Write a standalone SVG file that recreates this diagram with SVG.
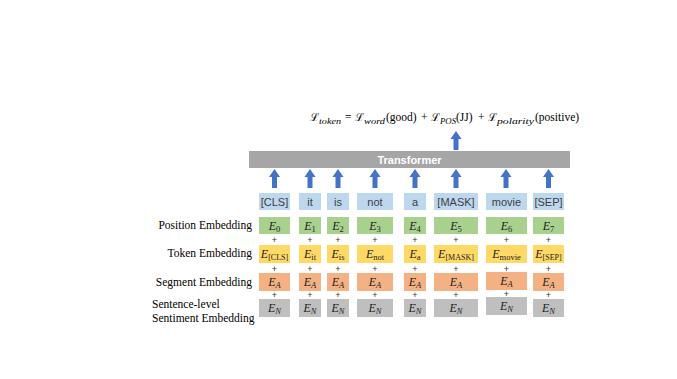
<svg xmlns="http://www.w3.org/2000/svg" width="677" height="379" viewBox="0 0 677 379">
<style>
.lbl{font-family:"Liberation Serif","Times New Roman",serif;font-size:11.5px;fill:#000}
.eq{font-family:"Liberation Serif","DejaVu Serif",serif;font-size:11.5px;fill:#000}
.L{font-family:"DejaVu Serif","Liberation Serif",serif;font-size:11px}
.it{font-style:italic}
.sub{font-size:9px;font-style:italic}
.tok{fill:#bdd7ee}
.tt{font-family:"Liberation Sans",Arial,sans-serif;font-size:11px;fill:#404040;text-anchor:middle}
.pos{fill:#a9d18e}
.tke{fill:#ffd966}
.seg{fill:#f4b183}
.sen{fill:#bfbfbf}
.e{font-family:"Liberation Serif","DejaVu Serif",serif;font-size:12px;fill:#222;text-anchor:middle}
.plus{font-family:"Liberation Sans",Arial,sans-serif;font-size:9px;fill:#333;text-anchor:middle}
.arr{fill:#4472c4}
</style>
<defs>
<path id="arrow" class="arr" d="M0,0 L5.5,8 L2.5,8 L2.5,19 L-2.5,19 L-2.5,8 L-5.5,8 Z"/>
</defs>
<rect width="677" height="379" fill="#fff"/>

<g id="equation">
<text class="eq" y="121">
<tspan x="310" class="L">ℒ</tspan><tspan x="319" dy="2.5" class="sub" textLength="22" lengthAdjust="spacingAndGlyphs">token</tspan>
<tspan x="345" dy="-2.5">=</tspan>
<tspan x="355" class="L">ℒ</tspan><tspan x="364" dy="2.5" class="sub" textLength="21" lengthAdjust="spacingAndGlyphs">word</tspan>
<tspan x="386" dy="-2.5">(good)</tspan><tspan x="421">+</tspan>
<tspan x="431" class="L">ℒ</tspan><tspan x="440" dy="2.5" class="sub" textLength="16" lengthAdjust="spacingAndGlyphs">POS</tspan>
<tspan x="456" dy="-2.5">(JJ)</tspan><tspan x="478">+</tspan>
<tspan x="488" class="L">ℒ</tspan><tspan x="497" dy="2.5" class="sub" textLength="37" lengthAdjust="spacingAndGlyphs">polarity</tspan>
<tspan x="535" dy="-2.5">(positive)</tspan>
</text>
</g>

<g id="transformer">
<rect x="249" y="151" width="321" height="17" fill="#a6a6a6"/>
<text x="409.5" y="163.5" font-family="'Liberation Sans',Arial,sans-serif" font-size="11" font-weight="bold" fill="#fff" text-anchor="middle">Transformer</text>
</g>

<g id="connectors">
<use href="#arrow" x="456" y="131"/>
<use href="#arrow" x="274.5" y="169"/>
<use href="#arrow" x="310" y="169"/>
<use href="#arrow" x="338" y="169"/>
<use href="#arrow" x="375" y="169"/>
<use href="#arrow" x="415" y="169"/>
<use href="#arrow" x="456" y="169"/>
<use href="#arrow" x="506" y="169"/>
<use href="#arrow" x="548.5" y="169"/>
</g>

<g id="row-labels">
<text class="lbl" x="252" y="229" text-anchor="end">Position Embedding</text>
<text class="lbl" x="252" y="257" text-anchor="end">Token Embedding</text>
<text class="lbl" x="252" y="286" text-anchor="end">Segment Embedding</text>
<text class="lbl" x="152" y="308">Sentence-level</text>
<text class="lbl" x="152" y="322">Sentiment Embedding</text>
</g>

<g id="tokens">
<g id="tok0"><rect class="tok" x="259" y="193" width="31" height="17"/><text class="tt" x="274.5" y="205.5">[CLS]</text></g>
<g id="tok1"><rect class="tok" x="299" y="193" width="22" height="17"/><text class="tt" x="310" y="205.5">it</text></g>
<g id="tok2"><rect class="tok" x="327" y="193" width="22" height="17"/><text class="tt" x="338" y="205.5">is</text></g>
<g id="tok3"><rect class="tok" x="357" y="193" width="36" height="17"/><text class="tt" x="375" y="205.5">not</text></g>
<g id="tok4"><rect class="tok" x="404" y="193" width="22" height="17"/><text class="tt" x="415" y="205.5">a</text></g>
<g id="tok5"><rect class="tok" x="434" y="193" width="44" height="17"/><text class="tt" x="456" y="205.5">[MASK]</text></g>
<g id="tok6"><rect class="tok" x="486" y="193" width="41" height="17"/><text class="tt" x="506.5" y="205.5">movie</text></g>
<g id="tok7"><rect class="tok" x="533" y="193" width="31" height="17"/><text class="tt" x="548.5" y="205.5">[SEP]</text></g>
</g>

<g id="position-embedding">
<g id="pos0"><rect class="pos" x="259" y="217" width="31" height="17"/><text class="e" x="274.5" y="229.5"><tspan class="it">E</tspan><tspan font-size="8.5" dy="2">0</tspan></text></g>
<g id="pos1"><rect class="pos" x="299" y="217" width="22" height="17"/><text class="e" x="310" y="229.5"><tspan class="it">E</tspan><tspan font-size="8.5" dy="2">1</tspan></text></g>
<g id="pos2"><rect class="pos" x="327" y="217" width="22" height="17"/><text class="e" x="338" y="229.5"><tspan class="it">E</tspan><tspan font-size="8.5" dy="2">2</tspan></text></g>
<g id="pos3"><rect class="pos" x="357" y="217" width="36" height="17"/><text class="e" x="375" y="229.5"><tspan class="it">E</tspan><tspan font-size="8.5" dy="2">3</tspan></text></g>
<g id="pos4"><rect class="pos" x="404" y="217" width="22" height="17"/><text class="e" x="415" y="229.5"><tspan class="it">E</tspan><tspan font-size="8.5" dy="2">4</tspan></text></g>
<g id="pos5"><rect class="pos" x="434" y="217" width="44" height="17"/><text class="e" x="456" y="229.5"><tspan class="it">E</tspan><tspan font-size="8.5" dy="2">5</tspan></text></g>
<g id="pos6"><rect class="pos" x="486" y="217" width="41" height="17"/><text class="e" x="506.5" y="229.5"><tspan class="it">E</tspan><tspan font-size="8.5" dy="2">6</tspan></text></g>
<g id="pos7"><rect class="pos" x="533" y="217" width="31" height="17"/><text class="e" x="548.5" y="229.5"><tspan class="it">E</tspan><tspan font-size="8.5" dy="2">7</tspan></text></g>
</g>

<g id="plus-row1">
<text class="plus" x="274.5" y="243">+</text><text class="plus" x="310" y="243">+</text><text class="plus" x="338" y="243">+</text><text class="plus" x="375" y="243">+</text><text class="plus" x="415" y="243">+</text><text class="plus" x="456" y="243">+</text><text class="plus" x="506.5" y="243">+</text><text class="plus" x="548.5" y="243">+</text>
</g>

<g id="token-embedding">
<g id="tke0"><rect class="tke" x="259" y="245" width="31" height="18"/><text class="e" x="274.5" y="257.5"><tspan class="it">E</tspan><tspan font-size="8" dy="2">[CLS]</tspan></text></g>
<g id="tke1"><rect class="tke" x="299" y="245" width="22" height="18"/><text class="e" x="310" y="257.5"><tspan class="it">E</tspan><tspan font-size="8.5" dy="2">it</tspan></text></g>
<g id="tke2"><rect class="tke" x="327" y="245" width="22" height="18"/><text class="e" x="338" y="257.5"><tspan class="it">E</tspan><tspan font-size="8.5" dy="2">is</tspan></text></g>
<g id="tke3"><rect class="tke" x="357" y="245" width="36" height="18"/><text class="e" x="375" y="257.5"><tspan class="it">E</tspan><tspan font-size="8.5" dy="2">not</tspan></text></g>
<g id="tke4"><rect class="tke" x="404" y="245" width="22" height="18"/><text class="e" x="415" y="257.5"><tspan class="it">E</tspan><tspan font-size="8.5" dy="2">a</tspan></text></g>
<g id="tke5"><rect class="tke" x="434" y="245" width="44" height="18"/><text class="e" x="456" y="257.5"><tspan class="it">E</tspan><tspan font-size="8" dy="2">[MASK]</tspan></text></g>
<g id="tke6"><rect class="tke" x="486" y="245" width="41" height="18"/><text class="e" x="506.5" y="257.5"><tspan class="it">E</tspan><tspan font-size="8.5" dy="2">movie</tspan></text></g>
<g id="tke7"><rect class="tke" x="533" y="245" width="31" height="18"/><text class="e" x="548.5" y="257.5"><tspan class="it">E</tspan><tspan font-size="8" dy="2">[SEP]</tspan></text></g>
</g>

<g id="plus-row2">
<text class="plus" x="274.5" y="272">+</text><text class="plus" x="310" y="272">+</text><text class="plus" x="338" y="272">+</text><text class="plus" x="375" y="272">+</text><text class="plus" x="415" y="272">+</text><text class="plus" x="456" y="272">+</text><text class="plus" x="506.5" y="272">+</text><text class="plus" x="548.5" y="272">+</text>
</g>

<g id="segment-embedding">
<g id="seg0"><rect class="seg" x="259" y="273" width="31" height="18"/><text class="e" x="274.5" y="285.5"><tspan class="it">E</tspan><tspan class="it" font-size="8.5" dy="2">A</tspan></text></g>
<g id="seg1"><rect class="seg" x="299" y="273" width="22" height="18"/><text class="e" x="310" y="285.5"><tspan class="it">E</tspan><tspan class="it" font-size="8.5" dy="2">A</tspan></text></g>
<g id="seg2"><rect class="seg" x="327" y="273" width="22" height="18"/><text class="e" x="338" y="285.5"><tspan class="it">E</tspan><tspan class="it" font-size="8.5" dy="2">A</tspan></text></g>
<g id="seg3"><rect class="seg" x="357" y="273" width="36" height="18"/><text class="e" x="375" y="285.5"><tspan class="it">E</tspan><tspan class="it" font-size="8.5" dy="2">A</tspan></text></g>
<g id="seg4"><rect class="seg" x="404" y="273" width="22" height="18"/><text class="e" x="415" y="285.5"><tspan class="it">E</tspan><tspan class="it" font-size="8.5" dy="2">A</tspan></text></g>
<g id="seg5"><rect class="seg" x="434" y="273" width="44" height="18"/><text class="e" x="456" y="285.5"><tspan class="it">E</tspan><tspan class="it" font-size="8.5" dy="2">A</tspan></text></g>
<g id="seg6"><rect class="seg" x="486" y="272" width="41" height="18"/><text class="e" x="506.5" y="284.5"><tspan class="it">E</tspan><tspan class="it" font-size="8.5" dy="2">A</tspan></text></g>
<g id="seg7"><rect class="seg" x="533" y="273" width="31" height="18"/><text class="e" x="548.5" y="285.5"><tspan class="it">E</tspan><tspan class="it" font-size="8.5" dy="2">A</tspan></text></g>
</g>

<g id="plus-row3">
<text class="plus" x="274.5" y="298">+</text><text class="plus" x="310" y="298">+</text><text class="plus" x="338" y="298">+</text><text class="plus" x="375" y="298">+</text><text class="plus" x="415" y="298">+</text><text class="plus" x="456" y="298">+</text><text class="plus" x="506.5" y="297">+</text><text class="plus" x="548.5" y="298">+</text>
</g>

<g id="sentiment-embedding">
<g id="sen0"><rect class="sen" x="259" y="299" width="31" height="18"/><text class="e" x="274.5" y="311.5"><tspan class="it">E</tspan><tspan class="it" font-size="8.5" dy="2">N</tspan></text></g>
<g id="sen1"><rect class="sen" x="299" y="299" width="22" height="18"/><text class="e" x="310" y="311.5"><tspan class="it">E</tspan><tspan class="it" font-size="8.5" dy="2">N</tspan></text></g>
<g id="sen2"><rect class="sen" x="327" y="299" width="22" height="18"/><text class="e" x="338" y="311.5"><tspan class="it">E</tspan><tspan class="it" font-size="8.5" dy="2">N</tspan></text></g>
<g id="sen3"><rect class="sen" x="357" y="299" width="36" height="18"/><text class="e" x="375" y="311.5"><tspan class="it">E</tspan><tspan class="it" font-size="8.5" dy="2">N</tspan></text></g>
<g id="sen4"><rect class="sen" x="404" y="299" width="22" height="18"/><text class="e" x="415" y="311.5"><tspan class="it">E</tspan><tspan class="it" font-size="8.5" dy="2">N</tspan></text></g>
<g id="sen5"><rect class="sen" x="434" y="299" width="44" height="18"/><text class="e" x="456" y="311.5"><tspan class="it">E</tspan><tspan class="it" font-size="8.5" dy="2">N</tspan></text></g>
<g id="sen6"><rect class="sen" x="486" y="297" width="41" height="18"/><text class="e" x="506.5" y="309.5"><tspan class="it">E</tspan><tspan class="it" font-size="8.5" dy="2">N</tspan></text></g>
<g id="sen7"><rect class="sen" x="533" y="299" width="31" height="18"/><text class="e" x="548.5" y="311.5"><tspan class="it">E</tspan><tspan class="it" font-size="8.5" dy="2">N</tspan></text></g>
</g>
</svg>
